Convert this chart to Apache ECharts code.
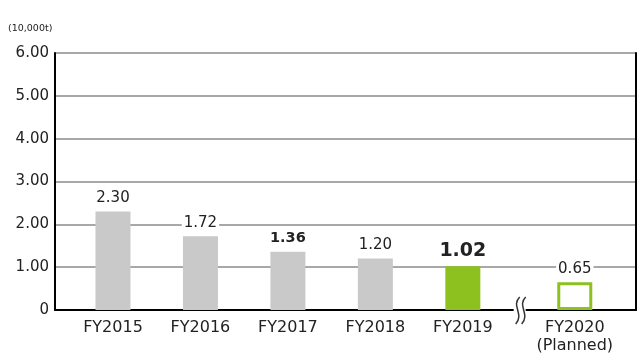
<!DOCTYPE html>
<html>
<head>
<meta charset="utf-8">
<script src="https://cdn.jsdelivr.net/npm/echarts@6/dist/echarts.min.js"></script>
<style>html,body{margin:0;padding:0;background:#fff}#c{width:640px;height:363px}</style>
</head>
<body>
<div id="c"></div>
<script>
var categories = ['FY2015', 'FY2016', 'FY2017', 'FY2018', 'FY2019', 'FY2020\n(Planned)'];
var categoryPositions = [0, 1, 2, 3, 4, 5.28];
var values = [2.30, 1.72, 1.36, 1.20, 1.02, 0.65];
var breakPosition = 4.65;
var yTicks = [0, 1, 2, 3, 4, 5, 6];
var unitLabel = '(10,000t)';

var FONT = '"DejaVu Sans", Verdana, sans-serif';
var GREY = '#c8c9c8', GREEN = '#8cc11f';

var data = values.map(function (v, i) {
  var item = { value: [categoryPositions[i], v] };
  var lbl = { fontSize: 15, fontWeight: 'normal' };
  if (i === 2) lbl = { fontSize: 14.5, fontWeight: 'bold' };
  if (i === 4) lbl = { fontSize: 19, fontWeight: 'bold' };
  item.label = lbl;
  if (i === 4) item.itemStyle = { color: GREEN };
  if (i === 5) item.itemStyle = { color: '#fff', borderColor: GREEN, borderWidth: 3 };
  return item;
});

var chart = echarts.init(document.getElementById('c'), null, { renderer: 'canvas' });
var option = {
  animation: false,
  textStyle: { fontFamily: FONT },
  title: {
    text: unitLabel, left: 8, top: 24, padding: 0,
    textStyle: { fontSize: 9.5, fontWeight: 'normal', color: '#222', fontFamily: FONT }
  },
  grid: { left: 55, right: 4, top: 53, bottom: 53 },
  xAxis: {
    type: 'value', min: -0.663, max: 5.98,
    splitLine: { show: false },
    axisLine: { show: true, onZero: false, lineStyle: { color: '#000', width: 2 } },
    axisTick: { show: false },
    axisLabel: {
      customValues: categoryPositions,
      formatter: function (v) {
        var idx = categoryPositions.indexOf(v);
        return idx >= 0 ? categories[idx] : '';
      },
      fontSize: 16, color: '#222', margin: 9, lineHeight: 18, fontFamily: FONT
    }
  },
  yAxis: [{
    type: 'value', min: yTicks[0], max: yTicks[yTicks.length - 1], interval: 1,
    axisLine: { show: true, onZero: false, lineStyle: { color: '#000', width: 2 } },
    axisTick: { show: false },
    splitLine: { show: true, lineStyle: { color: '#a8a8a8', width: 2 } },
    axisLabel: {
      fontSize: 15, color: '#222', margin: 6, fontFamily: FONT,
      formatter: function (v) { return v === 0 ? '0' : v.toFixed(2); }
    }
  }, {
    type: 'value', min: yTicks[0], max: yTicks[yTicks.length - 1], position: 'right',
    axisLine: { show: true, onZero: false, lineStyle: { color: '#000', width: 2 } },
    axisTick: { show: false }, axisLabel: { show: false }, splitLine: { show: false }
  }],
  series: [{
    type: 'bar',
    barWidth: 35,
    itemStyle: { color: GREY },
    label: {
      show: true, position: 'top', distance: 6, color: '#222', fontFamily: FONT,
      backgroundColor: '#fff', padding: [0, 2],
      formatter: function (p) { return p.value[1].toFixed(2); }
    },
    data: data
  }]
};
chart.setOption(option);

var bp = chart.convertToPixel({ xAxisIndex: 0, yAxisIndex: 0 }, [breakPosition, 0]);
var bx = bp[0], by = bp[1];
function wave(dx) {
  return {
    type: 'bezierCurve',
    shape: { x1: bx + dx + 3, y1: by - 13, cpx1: bx + dx - 6, cpy1: by - 4, cpx2: bx + dx + 8, cpy2: by + 4, x2: bx + dx - 1, y2: by + 14 },
    style: { stroke: '#333', lineWidth: 1.5, fill: null },
    z: 100
  };
}
chart.setOption({ graphic: [
  { type: 'rect', shape: { x: bx - 6, y: by - 2, width: 12, height: 4 }, style: { fill: '#fff' }, z: 99 },
  wave(-3), wave(3)
] });
</script>
</body>
</html>
